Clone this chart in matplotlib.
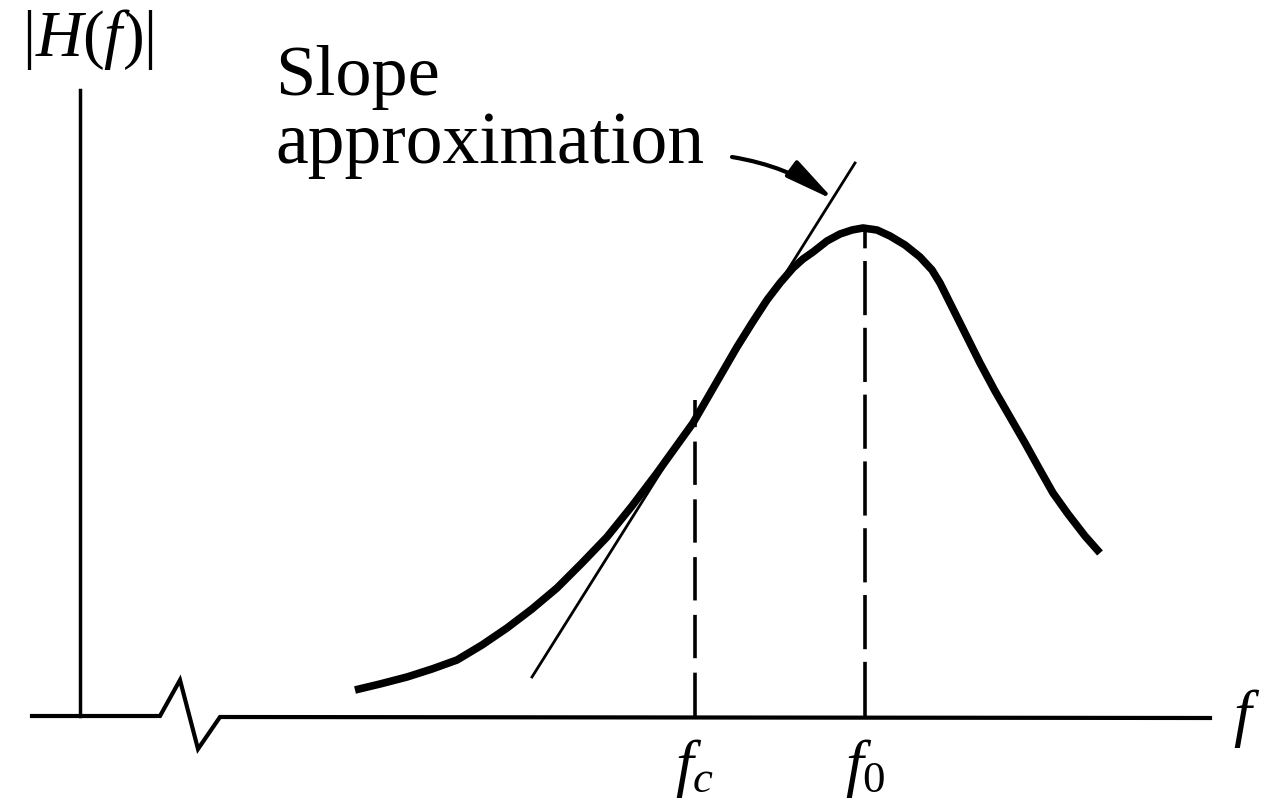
import numpy as np
import matplotlib
matplotlib.use("Agg")
import matplotlib.pyplot as plt

plt.rcParams['font.family'] = ['Liberation Serif', 'DejaVu Serif']
plt.rcParams['mathtext.fontset'] = 'custom'
plt.rcParams['mathtext.it'] = 'Liberation Serif:italic'
plt.rcParams['mathtext.rm'] = 'Liberation Serif'

# response curve |H(f)| (arbitrary units, baseline = 0)
freq = [355, 380, 407, 432, 457, 482, 507, 532, 557, 582, 607, 632, 657, 675,
        693, 715, 737, 752, 767, 780, 793, 803, 813, 827, 840, 852, 863, 877,
        890, 905, 920, 932, 940, 952, 965, 980, 995, 1010, 1025, 1040, 1053,
        1068, 1085, 1100]
mag = [26, 32, 39, 47, 56, 71, 88, 107, 128, 153, 179, 210, 243, 268,
       293, 331, 369, 393, 416, 433, 448, 457, 464, 475, 482, 486, 488, 486,
       480, 471, 459, 446, 433, 409, 383, 353, 325, 299, 273, 246, 223,
       202, 180, 163]

# slope approximation (tangent at fc)
tan_f = [532, 855]
tan_h = [39, 553]

fc = 695
f0 = 865
fc_h = 316
f0_h = 488

# broken horizontal axis
axis_f = [32, 160, 180, 198, 220, 1210]
axis_h = [0, 0, 36, -33, -1, -2]

fig = plt.figure(figsize=(12.65, 8.1), dpi=100)
ax = fig.add_axes([0, 0, 1, 1])
ax.set_xlim(0, 1265)
ax.set_ylim(-94, 716)
ax.axis('off')

# axes
ax.plot(axis_f, axis_h, color='black', lw=3, solid_joinstyle='miter')
ax.plot([80, 80], [0, 626], color='black', lw=2.5)

# curve
ax.plot(freq, mag, color='black', lw=5.5, solid_capstyle='butt', solid_joinstyle='round')

# tangent
ax.plot(tan_f, tan_h, color='black', lw=2)

# dashed verticals
ax.plot([fc, fc], [0, fc_h], color='black', lw=2.6, ls=(0, (12, 4)))
ax.plot([f0, f0], [0, f0_h], color='black', lw=2.6, ls=(0, (15, 3.5)))

# labels
ax.text(88, 676, '$|H(f)|$', fontsize=47, ha='center', va='center')
ax.text(275, 621, 'Slope', fontsize=52, ha='left', va='baseline')
ax.text(275, 553, 'approximation', fontsize=53, ha='left', va='baseline')
ax.text(fc, -52, '$f_c$', fontsize=46, ha='center', va='center')
ax.text(f0, -52, '$f_0$', fontsize=46, ha='center', va='center')
ax.text(1247, -2, '$f$', fontsize=46, ha='center', va='center')

ax.annotate('', xy=(834, 516), xytext=(732, 559),
            arrowprops=dict(arrowstyle='-|>,head_length=1.5,head_width=0.3',
                            mutation_scale=20, color='black', lw=3,
                            shrinkA=0, shrinkB=0,
                            connectionstyle='arc3,rad=-0.12'))

fig.savefig('out.png', dpi=100)
